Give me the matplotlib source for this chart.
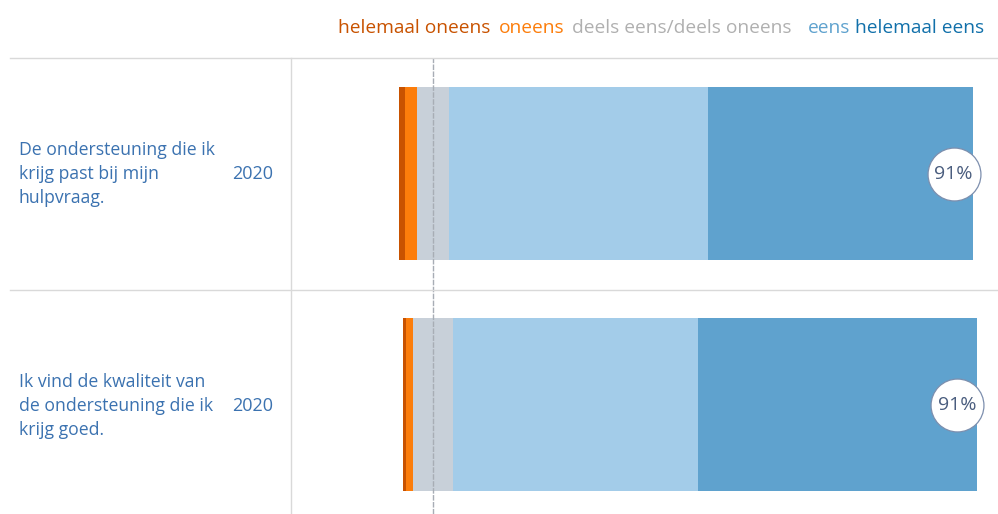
import matplotlib.pyplot as plt
from matplotlib.lines import Line2D
import numpy as np

plt.rcParams['font.family'] = ['Open Sans', 'DejaVu Sans']

questions = ["De ondersteuning die ik\nkrijg past bij mijn\nhulpvraag.",
             "Ik vind de kwaliteit van\nde ondersteuning die ik\nkrijg goed."]
years = ["2020", "2020"]
categories = ["helemaal oneens", "oneens", "deels eens/deels oneens", "eens", "helemaal eens"]
hel_oneens = [1.0, 0.6]
oneens = [2.1, 1.2]
neutraal = [5.6, 7.0]
eens = [45.1, 42.7]
hel_eens = [46.2, 48.5]
totaal_eens = ["91%", "91%"]

bar_colors = ["#c85200", "#fc7d0b", "#c8d0d9", "#a3cce9", "#5fa2ce"]
legend_colors = ["#c85200", "#fc7d0b", "#b0b0b0", "#5fa2ce", "#1170aa"]
text_blue = "#3b72b0"
line_grey = "#d9d9d9"

W, H = 998, 514
fig = plt.figure(figsize=(W / 100, H / 100), dpi=100)

def fx(px):
    return px / W

def fy(py):
    return 1 - py / H

# bar axes: from x=291 to right edge, from y=58 to bottom
ax = fig.add_axes([fx(291), 0, 1 - fx(291), fy(58)])
ax.set_axis_off()
px_per = 5.74
ax.set_xlim((291 - 433) / px_per, (998 - 433) / px_per)
ax.set_ylim(1.474, -0.5)

y = np.arange(len(questions))
bar_h = 0.753
for i in range(len(questions)):
    left = -neutraal[i] / 2 - oneens[i] - hel_oneens[i]
    vals = [hel_oneens[i], oneens[i], neutraal[i], eens[i], hel_eens[i]]
    for v, c in zip(vals, bar_colors):
        ax.barh(y[i], v, left=left, height=bar_h, color=c, edgecolor='none')
        left += v
    cx = left - 3.4
    ax.scatter([cx], [y[i]], s=1450, facecolor='white', edgecolor='#7d8fae',
               linewidth=0.9, zorder=5)
    ax.text(cx, y[i], totaal_eens[i], ha='center', va='center', fontsize=14,
            color='#4a5d7e', zorder=6)

ax.axvline(0, color='#a8adb5', linewidth=1, linestyle=(0, (4, 1)), zorder=4)

# grid lines
fig.add_artist(Line2D([fx(10), 1], [fy(58), fy(58)], color=line_grey, lw=1))
fig.add_artist(Line2D([fx(10), 1], [fy(289.5), fy(289.5)], color=line_grey, lw=1))
fig.add_artist(Line2D([fx(291), fx(291)], [fy(58), 0], color=line_grey, lw=1))

# row labels
row_centers = [174, 406]
for q, yr, rc in zip(questions, years, row_centers):
    fig.text(fx(19), fy(rc), q, ha='left', va='center', fontsize=12.7,
             color=text_blue, linespacing=1.45)
    fig.text(fx(232), fy(rc), yr, ha='left', va='center', fontsize=13,
             color=text_blue)

# legend at top
legend_x = [338, 499, 572, 808, 855]
for lbl, c, lx in zip(categories, legend_colors, legend_x):
    fig.text(fx(lx), fy(28), lbl, ha='left', va='center', fontsize=13.8, color=c)

fig.savefig("out.png", dpi=100)
